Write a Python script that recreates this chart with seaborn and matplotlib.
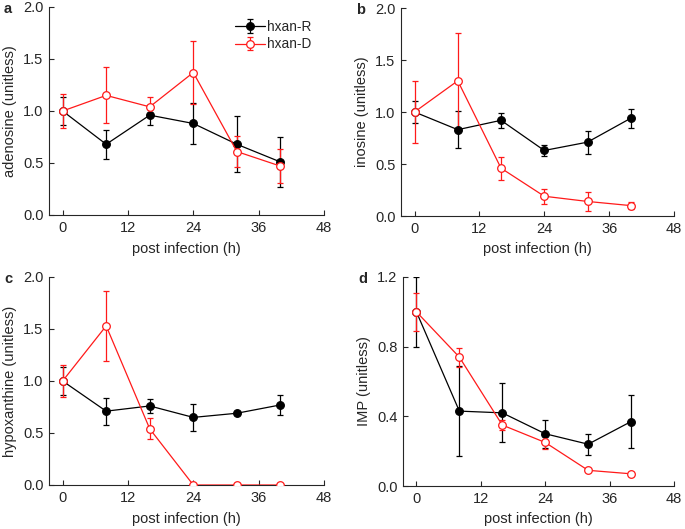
import numpy as np
import pandas as pd
import seaborn as sns
import matplotlib
matplotlib.use("Agg")
import matplotlib.pyplot as plt
from matplotlib.legend_handler import HandlerTuple

# hours post infection
hours = [0, 8, 16, 24, 32, 40]
groups = ["hxan-R", "hxan-D"]

adenosine_r = [1.00, 0.68, 0.96, 0.88, 0.68, 0.51]
adenosine_r_err = [0.13, 0.14, 0.09, 0.20, 0.27, 0.24]
adenosine_d = [1.00, 1.15, 1.04, 1.37, 0.61, 0.47]
adenosine_d_err = [0.16, 0.27, 0.09, 0.30, 0.15, 0.16]

inosine_r = [1.00, 0.83, 0.92, 0.63, 0.71, 0.94]
inosine_r_err = [0.11, 0.18, 0.07, 0.05, 0.11, 0.09]
inosine_d = [1.00, 1.30, 0.46, 0.19, 0.14, 0.10]
inosine_d_err = [0.30, 0.46, 0.11, 0.07, 0.09, 0.03]

hypoxanthine_r = [1.00, 0.71, 0.76, 0.65, 0.69, 0.77]
hypoxanthine_r_err = [0.13, 0.13, 0.07, 0.13, 0.02, 0.10]
hypoxanthine_d = [1.00, 1.53, 0.54, 0.0, 0.0, 0.0]
hypoxanthine_d_err = [0.15, 0.34, 0.10, 0.0, 0.0, 0.0]

imp_r = [1.00, 0.43, 0.42, 0.30, 0.24, 0.37]
imp_r_err = [0.20, 0.26, 0.17, 0.08, 0.06, 0.15]
imp_d = [1.00, 0.74, 0.35, 0.25, 0.09, 0.07]
imp_d_err = [0.11, 0.055, 0.03, 0.04, 0.005, 0.01]

panels = [
    ("a", "adenosine (unitless)", adenosine_r, adenosine_r_err, adenosine_d, adenosine_d_err,
     [0, 0.5, 1.0, 1.5, 2.0], 2.0, [49, 7, 324, 215]),
    ("b", "inosine (unitless)", inosine_r, inosine_r_err, inosine_d, inosine_d_err,
     [0, 0.5, 1.0, 1.5, 2.0], 2.0, [401, 8, 674, 216]),
    ("c", "hypoxanthine (unitless)", hypoxanthine_r, hypoxanthine_r_err, hypoxanthine_d, hypoxanthine_d_err,
     [0, 0.5, 1.0, 1.5, 2.0], 2.0, [49, 277, 324, 485]),
    ("d", "IMP (unitless)", imp_r, imp_r_err, imp_d, imp_d_err,
     [0, 0.4, 0.8, 1.2], 1.2, [403, 277, 674, 486]),
]

sns.set_theme(style="ticks")
plt.rcParams["font.family"] = ["Liberation Sans", "DejaVu Sans"]
plt.rcParams["font.size"] = 10.5

W, H = 685, 529
fig = plt.figure(figsize=(W / 100, H / 100), dpi=100)
colors = {"hxan-R": "black", "hxan-D": "#ff1a1a"}
faces = {"hxan-R": "black", "hxan-D": "white"}
ink = "#262626"
fs = 10.5

for letter, ylabel, r_vals, r_err, d_vals, d_err, yticks, ymax, box in panels:
    x0, y0, x1, y1 = box
    ax = fig.add_axes([x0 / W, 1 - y1 / H, (x1 - x0) / W, (y1 - y0) / H])
    df = pd.DataFrame({
        "hours": hours * 2,
        "value": r_vals + d_vals,
        "err": r_err + d_err,
        "group": [groups[0]] * len(hours) + [groups[1]] * len(hours),
    })
    handles = []
    for g in groups:
        sub = df[df["group"] == g]
        eb = ax.errorbar(sub["hours"], sub["value"], yerr=sub["err"], fmt="none",
                         ecolor=colors[g], elinewidth=0.9, capsize=2, capthick=0.9, zorder=3)
        handles.append(eb)
    sns.lineplot(data=df, x="hours", y="value", hue="group", hue_order=groups,
                 palette=colors, marker="o", markersize=5.5, linewidth=0.9,
                 markeredgewidth=0.9, legend=False, ax=ax, zorder=4)
    # open markers for hxan-D
    for line, g in zip(ax.get_lines()[-2:], groups):
        line.set_markerfacecolor(faces[g])
        line.set_markeredgecolor(colors[g])

    ax.set_xlim(-2.5, 48)
    ax.set_ylim(0, ymax)
    ax.set_xticks([0, 12, 24, 36, 48])
    ax.set_yticks(yticks)
    ax.set_yticklabels(["{:.1f}".format(t) for t in yticks])
    ax.tick_params(direction="in", length=3.5, width=0.8, labelsize=fs, colors=ink, pad=4)
    ax.set_xlabel("post infection (h)", fontsize=fs, color=ink, labelpad=5)
    ax.set_ylabel(ylabel, fontsize=fs, color=ink, labelpad=4)
    sns.despine(ax=ax)
    for s in ["left", "bottom"]:
        ax.spines[s].set_linewidth(0.8)
        ax.spines[s].set_color(ink)

    fig.text((x0 - 45) / W, 1 - (y0 + 2) / H, letter, fontsize=fs, fontweight="bold",
             ha="left", va="center")

    if letter == "a":
        lines = ax.get_lines()[-2:]
        leg = ax.legend([(handles[0], lines[0]), (handles[1], lines[1])], groups,
                        handler_map={tuple: HandlerTuple(ndivide=1, pad=0)},
                        loc="upper right", bbox_to_anchor=(1.0, 1.0), frameon=False,
                        fontsize=9.8, handlelength=2.2, handletextpad=0.1,
                        labelspacing=0.25, borderaxespad=0.55)
        for t in leg.get_texts():
            t.set_color(ink)

fig.savefig("out.png", dpi=100)
